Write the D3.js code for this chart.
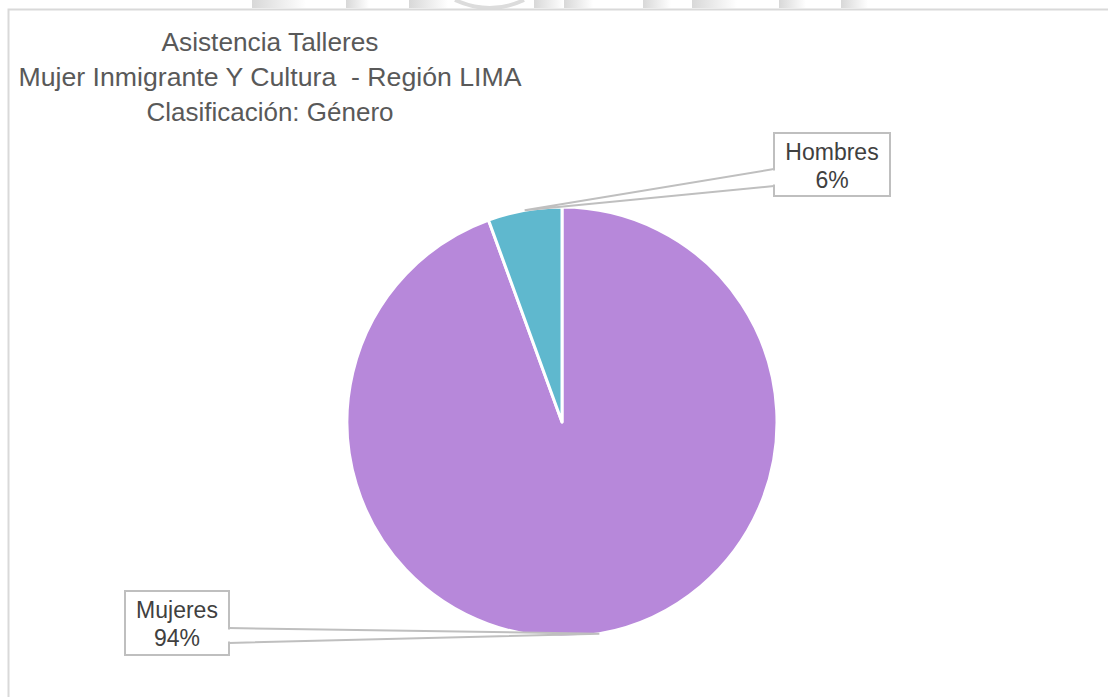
<!DOCTYPE html>
<html>
<head>
  <meta charset="utf-8">
  <title>Asistencia Talleres</title>
  <style type="text/css">
    body {
      margin: 0;
      background-color: #fff;
    }
    svg {
      display: block;
    }
    text.title {
      fill: #595959;
      font-family: "Liberation Sans", Arial, sans-serif;
      font-size: 26px;
      white-space: pre;
    }
    text.lbl {
      fill: #404040;
      font-family: "Liberation Sans", Arial, sans-serif;
      font-size: 23px;
    }
  </style>
  <script src="https://d3js.org/d3.v7.min.js"></script>
</head>
<body>

<script>
// data
var categories = ["Mujeres", "Hombres"];
var values = [17, 1];
var colors = ["#b788da", "#5fb8ce"];
var titleLines = ["Asistencia Talleres", "Mujer Inmigrante Y Cultura  - Región LIMA", "Clasificación: Género"];

var width = 1108, height = 697;
var cx = 562, cy = 422, radius = 215;

var svg = d3.select("body").append("svg")
    .attr("width", width)
    .attr("height", height);

// faint scraps of the page above the chart (watermark)
var defs = svg.append("defs");
var grad = defs.append("linearGradient").attr("id", "wm");
grad.append("stop").attr("offset", "0%").attr("stop-color", "#d8d8d8");
grad.append("stop").attr("offset", "100%").attr("stop-color", "#ffffff");
var scraps = [[252, 54], [346, 23], [409, 39], [534, 30], [564, 29], [643, 28], [692, 45], [779, 27], [841, 27]];
svg.selectAll("rect.wm").data(scraps).enter().append("rect")
    .attr("class", "wm")
    .attr("x", function(d) { return d[0]; })
    .attr("y", 0)
    .attr("width", function(d) { return d[1]; })
    .attr("height", 8)
    .attr("fill", "url(#wm)");
svg.append("path")
    .attr("d", "M455,0 Q490,16 524,0")
    .attr("fill", "none")
    .attr("stroke", "#dcdcdc")
    .attr("stroke-width", 4);

// chart frame
svg.append("rect")
    .attr("x", 8.5).attr("y", 9.5)
    .attr("width", width + 20).attr("height", height + 20)
    .attr("fill", "#fff")
    .attr("stroke", "#d9d9d9")
    .attr("stroke-width", 2);

// title (narrow face squeezed to the original line widths)
var titleWidths = [217, 503, 247];
svg.append("g").selectAll("text").data(titleLines).enter().append("text")
    .attr("class", "title")
    .attr("x", 270)
    .attr("y", function(d, i) { return 51 + i * 35; })
    .attr("text-anchor", "middle")
    .attr("textLength", function(d, i) { return titleWidths[i]; })
    .attr("lengthAdjust", "spacingAndGlyphs")
    .text(function(d) { return d; });

// pie
var data = categories.map(function(c, i) { return {name: c, value: values[i], color: colors[i]}; });
var total = d3.sum(values);

var pie = d3.pie().sort(null).value(function(d) { return d.value; });
var arc = d3.arc().innerRadius(0).outerRadius(radius);
var arcs = pie(data);

var g = svg.append("g").attr("transform", "translate(" + cx + "," + cy + ")");

g.selectAll("path.slice").data(arcs).enter().append("path")
    .attr("class", "slice")
    .attr("d", arc)
    .attr("fill", function(d) { return d.data.color; })
    .attr("stroke", "#fff")
    .attr("stroke-width", 3)
    .attr("stroke-linejoin", "round");

// callout labels
var boxes = {
  "Hombres": {x: 774, y: 133, w: 116, h: 63, side: "left", y1: 169, y2: 186},
  "Mujeres": {x: 125, y: 591, w: 104, h: 64, side: "right", y1: 628, y2: 643}
};

arcs.forEach(function(d) {
  var b = boxes[d.data.name];
  var mid = (d.startAngle + d.endAngle) / 2;
  var tx = cx + Math.sin(mid) * radius;
  var ty = cy - Math.cos(mid) * radius;
  var ex = b.side === "left" ? b.x : b.x + b.w;
  var pct = Math.round(d.data.value / total * 100) + "%";

  var lg = svg.append("g");
  lg.append("path")
      .attr("d", "M" + ex + "," + b.y1 + "L" + tx + "," + ty + "L" + ex + "," + b.y2)
      .attr("fill", "#fff")
      .attr("stroke", "#bfbfbf")
      .attr("stroke-width", 2);
  lg.append("rect")
      .attr("x", b.x).attr("y", b.y)
      .attr("width", b.w).attr("height", b.h)
      .attr("fill", "#fff")
      .attr("stroke", "#bfbfbf")
      .attr("stroke-width", 2);
  // hide the box edge where the leader joins
  lg.append("line")
      .attr("x1", ex).attr("x2", ex)
      .attr("y1", b.y1 + 1.5).attr("y2", b.y2 - 1.5)
      .attr("stroke", "#fff")
      .attr("stroke-width", 3);
  lg.append("text")
      .attr("class", "lbl")
      .attr("x", b.x + b.w / 2)
      .attr("y", b.y + 27)
      .attr("text-anchor", "middle")
      .text(d.data.name);
  lg.append("text")
      .attr("class", "lbl")
      .attr("x", b.x + b.w / 2)
      .attr("y", b.y + 55)
      .attr("text-anchor", "middle")
      .text(pct);
});
</script>

</body>
</html>
